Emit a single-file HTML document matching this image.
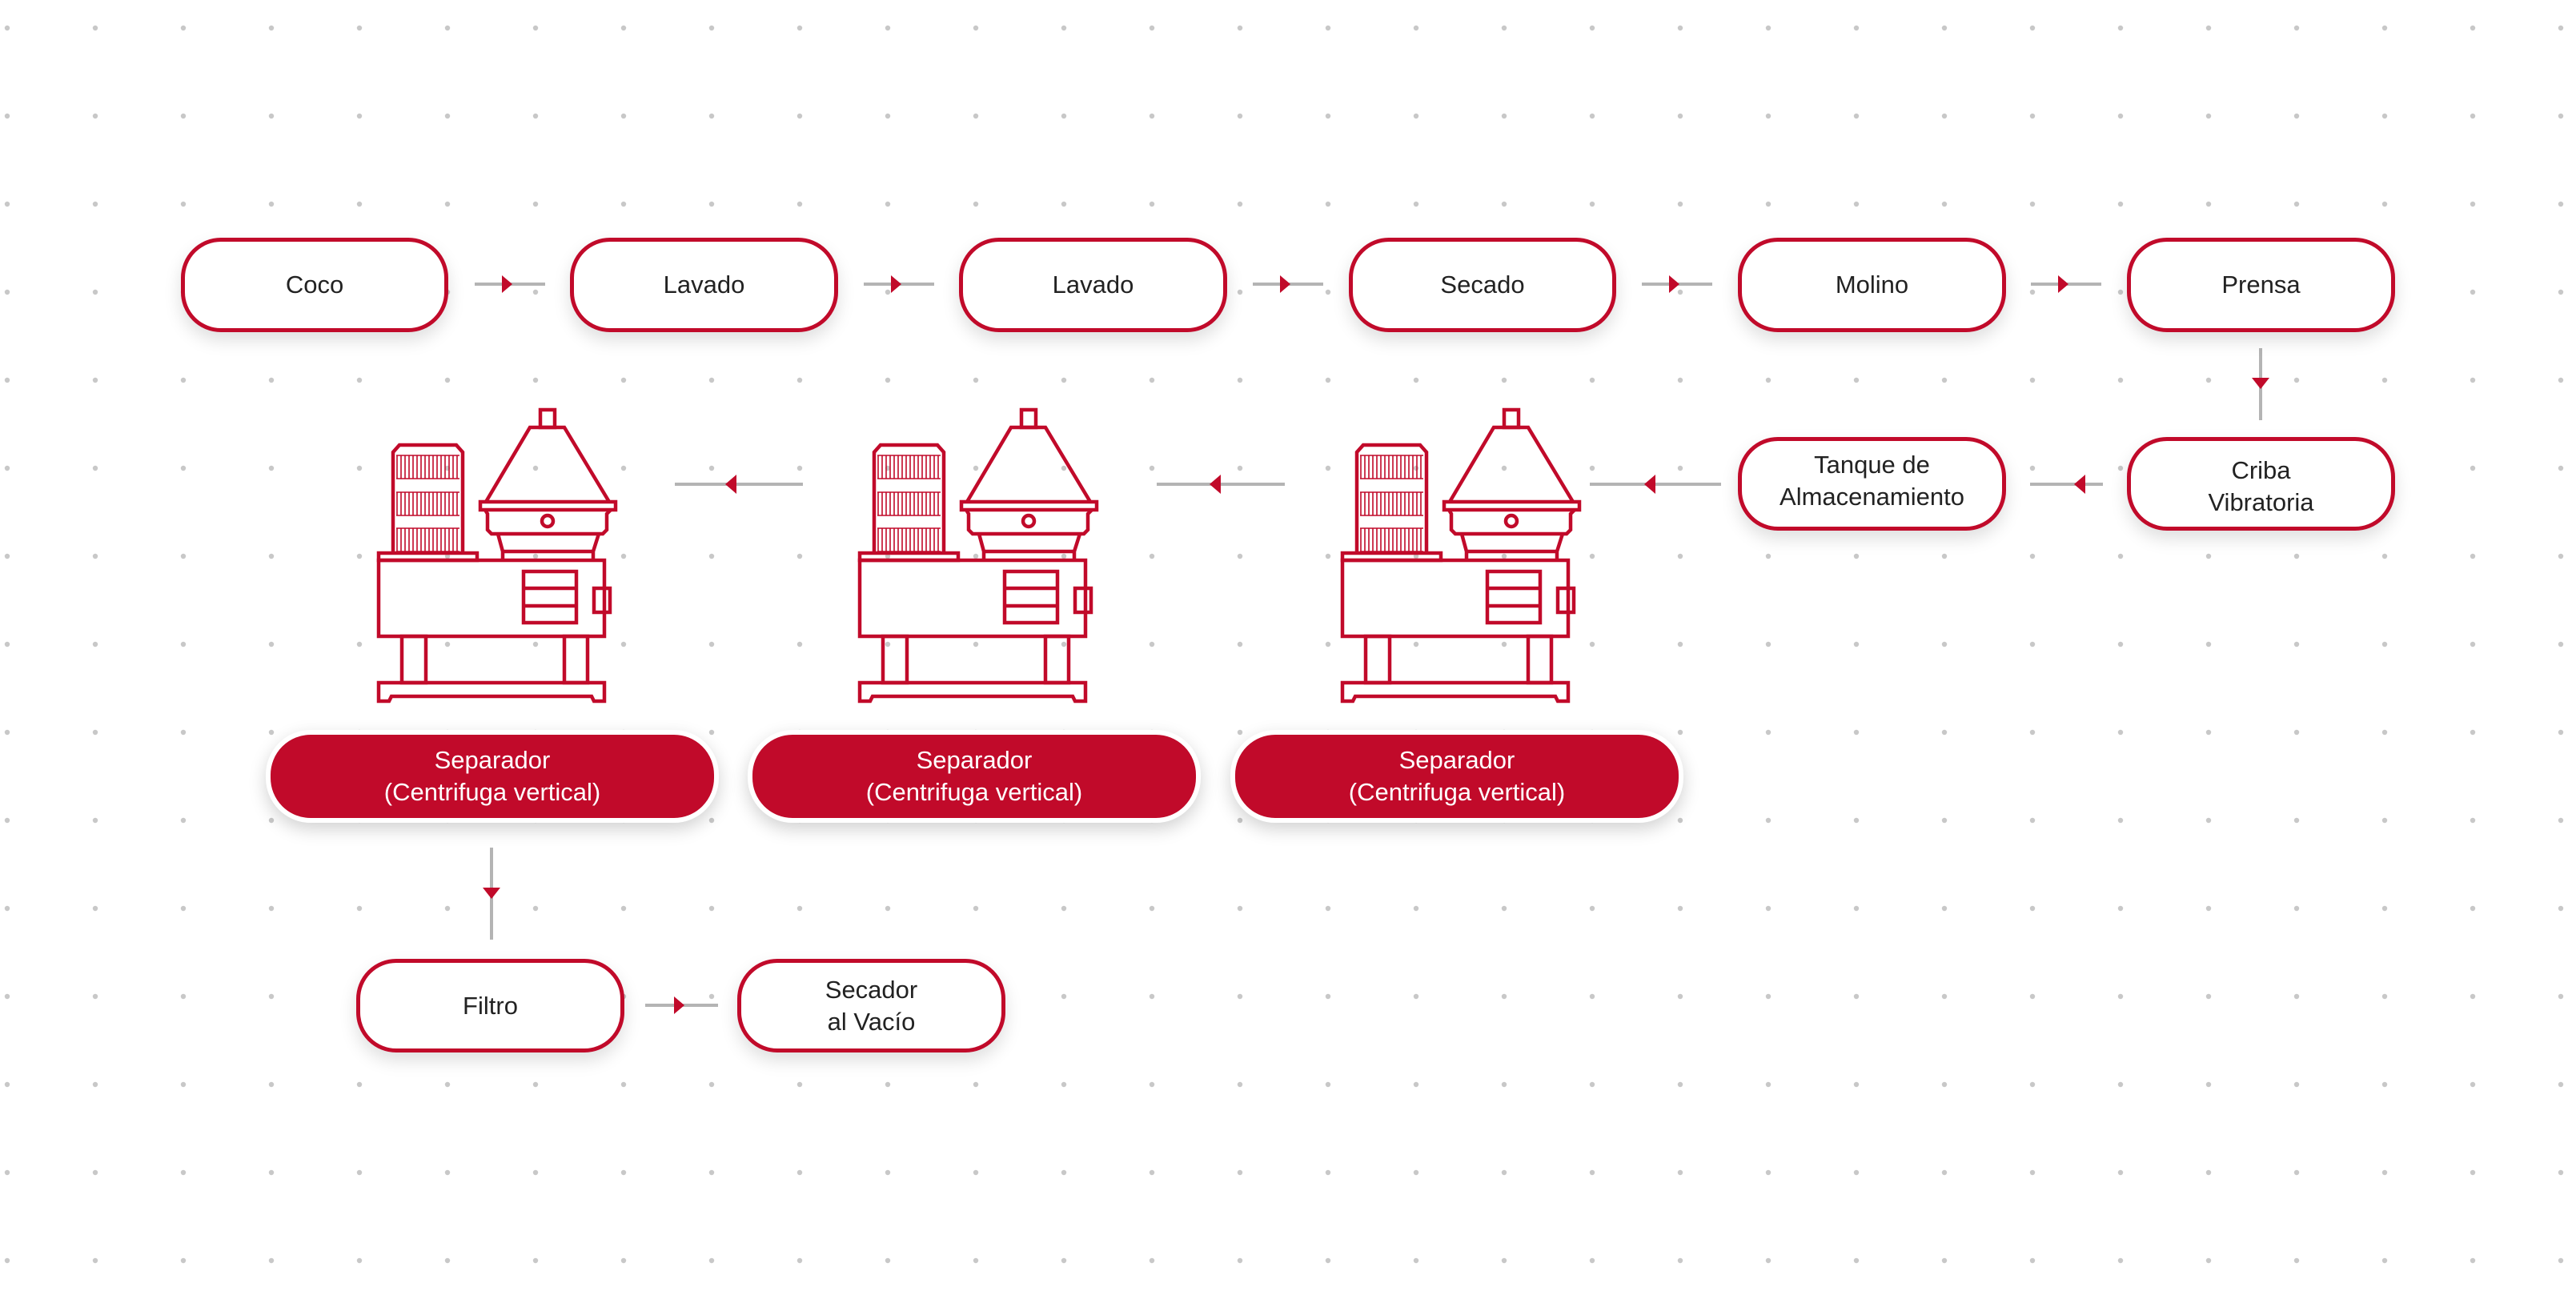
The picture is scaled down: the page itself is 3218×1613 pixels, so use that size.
<!DOCTYPE html>
<html><head><meta charset="utf-8"><style>
html,body{margin:0;padding:0;background:#fff}
body{width:3218px;height:1613px;position:relative;overflow:hidden;font-family:"Liberation Sans",sans-serif}
.n{position:absolute;box-sizing:border-box;border:5px solid #c10a2a;border-radius:50px;background:#fff;box-shadow:0 10px 22px rgba(0,0,0,0.13);display:flex;align-items:center;justify-content:center;text-align:center;color:#222;font-size:31px;line-height:40px}
.s{position:absolute;box-sizing:border-box;border:6px solid #fff;border-radius:56px;background:#c10a2a;box-shadow:0 8px 22px rgba(0,0,0,0.18);display:flex;align-items:center;justify-content:center;text-align:center;color:#fff;font-size:31px;line-height:40px}
svg{position:absolute;left:0;top:0}
</style></head><body>
<svg width="3218" height="1613">
<defs>
<pattern id="dots" x="-46" y="-20" width="110" height="110" patternUnits="userSpaceOnUse"><circle cx="55" cy="55" r="3.2" fill="#c8c8c8"/></pattern>
<g id="m" fill="none" stroke="#c10a2a" stroke-width="4.5">
<path d="M491,691 V565 L499,556 H570 L578,565 V691"/>
<g stroke-width="1.6">
<path id="fin" d="M496,569 v29 M501,569 v29 M506,569 v29 M511,569 v29 M516,569 v29 M521,569 v29 M526,569 v29 M531,569 v29 M536,569 v29 M541,569 v29 M546,569 v29 M551,569 v29 M556,569 v29 M561,569 v29 M566,569 v29 M571,569 v29 M495,569 h79 M495,598 h79"/>
<use href="#fin" y="46"/><use href="#fin" y="91"/>
</g>
<rect x="473" y="691" width="123" height="9"/>
<rect x="473" y="700" width="282" height="95"/>
<rect x="654" y="714" width="66" height="64"/>
<path d="M654,735 h66 M654,757 h66"/>
<rect x="742" y="735" width="20" height="30"/>
<rect x="502" y="795" width="30" height="58"/>
<rect x="705" y="795" width="29" height="58"/>
<path d="M473,876 V853 H755 V876 H742 L739,870 H489 L486,876 Z"/>
<rect x="675" y="512" width="18" height="22"/>
<path d="M607,627 L662,534 H705 L761,627"/>
<rect x="600" y="627" width="169" height="10"/>
<path d="M606,637 L609,642 V662 L614,667 H753 L758,662 V642 L763,637"/>
<circle cx="684" cy="651" r="7"/>
<path d="M622,667 L628,689 H741 L748,667 M628,689 V700 M741,689 V700"/>
</g>
</defs>
<rect width="3218" height="1613" fill="url(#dots)"/>
<use href="#m"/>
<use href="#m" x="601"/>
<use href="#m" x="1204"/>
<g stroke="#b4b4b4" stroke-width="4">
<path d="M593,355 h88 M1079,355 h88 M1565,355 h88 M2051,355 h88 M2537,355 h88"/>
<path d="M2824,435 v90"/>
<path d="M2536,605 h91 M1986,605 h164 M1445,605 h160 M843,605 h160"/>
<path d="M614,1059 v115"/>
<path d="M806,1256 h91"/>
</g>
<g fill="#c10a2a">
<path d="M627,344 l13,11 l-13,11z"/><path d="M1113,344 l13,11 l-13,11z"/><path d="M1599,344 l13,11 l-13,11z"/><path d="M2085,344 l13,11 l-13,11z"/><path d="M2571,344 l13,11 l-13,11z"/>
<path d="M2813,472 l11,14 l11,-14z"/>
<path d="M2591,605 l14,-12 v24z"/><path d="M2054,605 l14,-12 v24z"/><path d="M1511,605 l14,-12 v24z"/><path d="M906,605 l14,-12 v24z"/>
<path d="M603,1109 l11,14 l11,-14z"/>
<path d="M842,1245 l13,11 l-13,11z"/>
</g>
</svg>
<div class="n" style="left:226px;top:297px;width:334px;height:118px">Coco</div>
<div class="n" style="left:712px;top:297px;width:335px;height:118px">Lavado</div>
<div class="n" style="left:1198px;top:297px;width:335px;height:118px">Lavado</div>
<div class="n" style="left:1685px;top:297px;width:334px;height:118px">Secado</div>
<div class="n" style="left:2171px;top:297px;width:335px;height:118px">Molino</div>
<div class="n" style="left:2657px;top:297px;width:335px;height:118px">Prensa</div>
<div class="n" style="left:2171px;top:546px;width:335px;height:117px;padding-bottom:8px">Tanque de<br>Almacenamiento</div>
<div class="n" style="left:2657px;top:546px;width:335px;height:117px;padding-top:6px">Criba<br>Vibratoria</div>
<div class="s" style="left:332px;top:912px;width:566px;height:116px">Separador<br>(Centrifuga vertical)</div>
<div class="s" style="left:934px;top:912px;width:566px;height:116px">Separador<br>(Centrifuga vertical)</div>
<div class="s" style="left:1537px;top:912px;width:566px;height:116px">Separador<br>(Centrifuga vertical)</div>
<div class="n" style="left:445px;top:1198px;width:335px;height:117px">Filtro</div>
<div class="n" style="left:921px;top:1198px;width:335px;height:117px">Secador<br>al Vacío</div>
</body></html>
